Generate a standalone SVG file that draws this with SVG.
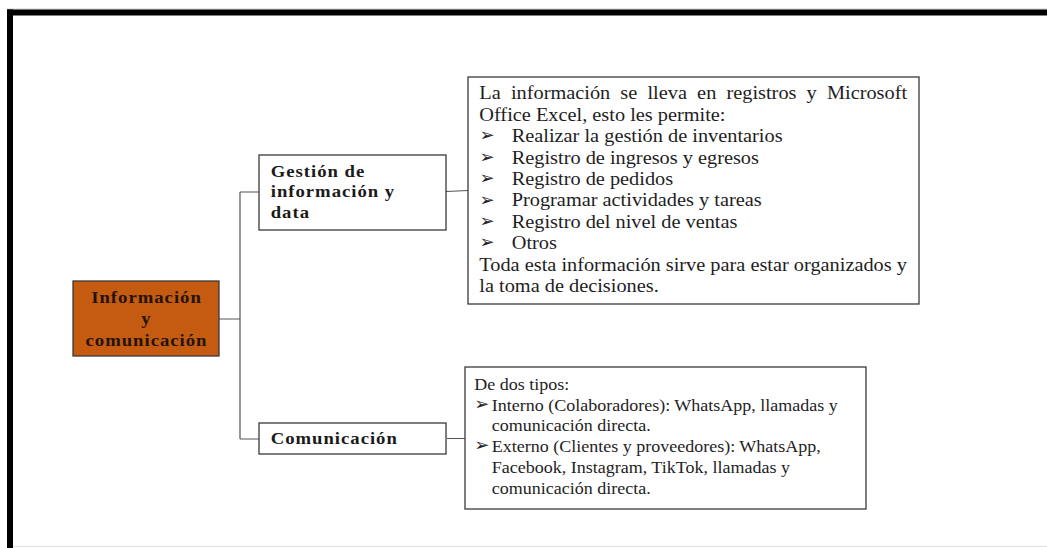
<svg xmlns="http://www.w3.org/2000/svg" width="1047" height="548" viewBox="0 0 1047 548">
<style>
.box{fill:#fff;stroke:#3a3a3a;stroke-width:1.3}
.org{fill:#C55A11;stroke:#3a3a3a;stroke-width:1.3}
.conn{fill:none;stroke:#555;stroke-width:1.2}
.b{font-family:"Liberation Serif","Times New Roman",serif;font-weight:bold;font-size:17px;letter-spacing:0.9px;fill:#1a1a1a}
.ob{fill:#231408}
.t{font-family:"Liberation Serif","Times New Roman",serif;font-size:18px;fill:#1e1e1e}
.t2{font-family:"Liberation Serif","Times New Roman",serif;font-size:17px;fill:#1e1e1e}
.bul{font-family:"DejaVu Sans",sans-serif;font-size:18px;fill:#1e1e1e}
</style>
<rect width="1047" height="548" fill="#fff"/>
<g id="frame">
<line x1="7" y1="9" x2="1047" y2="9" stroke="#d0d0d0" stroke-width="1"/>
<rect x="7" y="9.5" width="1040" height="6" fill="#000"/>
<rect x="7" y="9.5" width="6" height="538.5" fill="#000"/>
<line x1="13" y1="546.5" x2="1047" y2="546.5" stroke="#e6e6e6" stroke-width="1.5"/>
</g>
<g id="connectors">
<path class="conn" d="M219 319 H240 M240 192 V439 M240 192 H259 M240 439 H259 M446 191.5 L468 190.5 M447 438.5 H465"/>
</g>
<g id="root">
<rect class="org" x="73" y="281" width="146" height="75"/>
<text class="b ob" transform="translate(146.5,302.7) scale(1.1,1)" text-anchor="middle">Información</text>
<text class="b ob" transform="translate(146.5,323.5) scale(1.1,1)" text-anchor="middle">y</text>
<text class="b ob" transform="translate(146.5,345.7) scale(1.1,1)" text-anchor="middle">comunicación</text>
</g>
<g id="gestion">
<rect class="box" x="259" y="155" width="187" height="75"/>
<text class="b" transform="translate(270.7,176.7) scale(1.1,1)">Gestión de</text>
<text class="b" transform="translate(270.7,197.3) scale(1.1,1)">información y</text>
<text class="b" transform="translate(270.7,218) scale(1.1,1)">data</text>
</g>
<g id="comunicacion">
<rect class="box" x="259" y="423" width="187" height="31"/>
<text class="b" transform="translate(270.7,444) scale(1.1,1)">Comunicación</text>
</g>
<g id="gestion-detalle">
<rect class="box" x="468" y="77" width="451" height="227"/>
<text class="t" transform="translate(479.3,99.3) scale(1.13,1)" word-spacing="4.5">La información se lleva en registros y Microsoft</text>
<text class="t" transform="translate(479.3,120.7) scale(1.13,1)">Office Excel, esto les permite:</text>
<text class="bul" x="479.5" y="141.3">➢</text>
<text class="t" transform="translate(511.7,142.1) scale(1.13,1)">Realizar la gestión de inventarios</text>
<text class="bul" x="479.5" y="162.7">➢</text>
<text class="t" transform="translate(511.7,163.5) scale(1.13,1)">Registro de ingresos y egresos</text>
<text class="bul" x="479.5" y="184.1">➢</text>
<text class="t" transform="translate(511.7,184.9) scale(1.13,1)">Registro de pedidos</text>
<text class="bul" x="479.5" y="205.5">➢</text>
<text class="t" transform="translate(511.7,206.3) scale(1.13,1)">Programar actividades y tareas</text>
<text class="bul" x="479.5" y="226.9">➢</text>
<text class="t" transform="translate(511.7,227.7) scale(1.13,1)">Registro del nivel de ventas</text>
<text class="bul" x="479.5" y="248.3">➢</text>
<text class="t" transform="translate(511.7,249.1) scale(1.13,1)">Otros</text>
<text class="t" transform="translate(479.3,270.5) scale(1.13,1)">Toda esta información sirve para estar organizados y</text>
<text class="t" transform="translate(479.3,291.9) scale(1.13,1)">la toma de decisiones.</text>
</g>
<g id="comunicacion-detalle">
<rect class="box" x="465" y="367" width="401" height="142"/>
<text class="t2" transform="translate(474.3,390) scale(1.06,1)">De dos tipos:</text>
<text class="bul" x="474.3" y="410">➢</text>
<text class="t2" transform="translate(491.7,410.7) scale(1.06,1)">Interno (Colaboradores): WhatsApp, llamadas y</text>
<text class="t2" transform="translate(491.7,431.4) scale(1.06,1)">comunicación directa.</text>
<text class="bul" x="474.3" y="451.4">➢</text>
<text class="t2" transform="translate(491.7,452.1) scale(1.06,1)">Externo (Clientes y proveedores): WhatsApp,</text>
<text class="t2" transform="translate(491.7,472.8) scale(1.06,1)">Facebook, Instagram, TikTok, llamadas y</text>
<text class="t2" transform="translate(491.7,493.5) scale(1.06,1)">comunicación directa.</text>
</g>
</svg>
